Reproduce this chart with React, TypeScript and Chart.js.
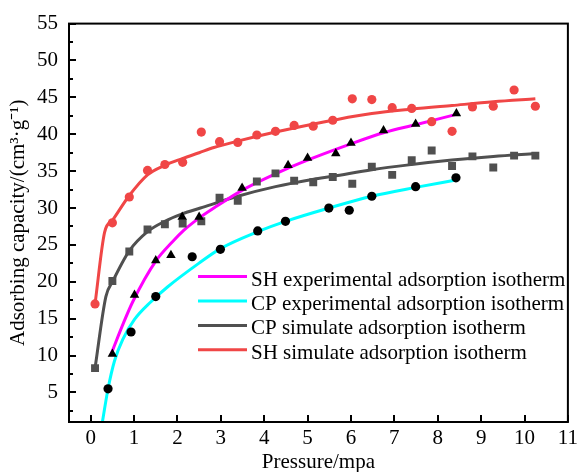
import React, { useEffect, useRef } from "react";
import { Chart, registerables } from "chart.js";

Chart.register(...registerables);

// ---- Data ----
// Simulated points (shared pressures)
const simPressure = [0.1, 0.5, 0.89, 1.31, 1.71, 2.12, 2.55, 2.97, 3.39, 3.83, 4.26, 4.69, 5.13, 5.58, 6.03, 6.48, 6.95, 7.4, 7.86, 8.33, 8.8, 9.28, 9.76, 10.25];
const shSimulate = [17.0, 28.0, 31.5, 35.1, 35.9, 36.2, 40.3, 39.0, 38.9, 39.9, 40.4, 41.2, 41.1, 41.9, 44.8, 44.7, 43.6, 43.5, 41.7, 40.4, 43.7, 43.8, 46.0, 43.8];
const cpSimulate = [8.3, 20.1, 24.1, 27.1, 27.8, 27.9, 28.2, 31.4, 31.0, 33.6, 34.7, 33.7, 33.5, 34.2, 33.3, 35.6, 34.5, 36.5, 37.8, 35.7, 37.0, 35.5, 37.1, 37.1];

// Experimental points
const shExpPressure = [0.5, 1.01, 1.5, 1.85, 2.11, 2.5, 3.49, 4.55, 5.0, 5.65, 6.0, 6.75, 7.49, 8.43];
const shExperimental = [10.2, 18.2, 22.9, 23.6, 28.8, 28.8, 32.7, 35.8, 36.8, 37.4, 38.8, 40.5, 41.4, 42.8];
const cpExpPressure = [0.4, 0.93, 1.5, 2.34, 2.99, 3.85, 4.49, 5.49, 5.96, 6.48, 7.49, 8.42];
const cpExperimental = [5.5, 13.2, 18.0, 23.4, 24.4, 26.9, 28.2, 30.0, 29.7, 31.6, 32.9, 34.1];

// Isotherm curves
const shExpCurveP = [0.47, 0.74, 0.97, 1.5, 1.88, 2.15, 2.49, 2.84, 3.49, 4.55, 5.13, 6.0, 6.75, 7.49, 8.43];
const shExpCurveV = [10.2, 14.2, 17.3, 22.8, 25.4, 27.0, 28.6, 30.0, 32.4, 35.4, 36.8, 38.7, 40.2, 41.3, 42.7];
const cpExpCurveP = [0.27, 0.4, 0.55, 0.74, 1.01, 1.39, 1.77, 2.49, 2.99, 3.85, 4.49, 5.49, 6.48, 7.49, 8.42];
const cpExpCurveV = [1.0, 5.5, 9.3, 12.2, 14.9, 17.3, 19.3, 22.5, 24.5, 26.8, 28.2, 30.0, 31.6, 32.8, 33.8];
const cpSimCurveP = [0.1, 0.35, 0.51, 0.89, 1.31, 1.71, 2.11, 2.53, 3.39, 4.26, 5.14, 5.58, 6.48, 7.4, 8.33, 9.28, 10.25];
const cpSimCurveV = [8.3, 18.0, 20.1, 24.2, 26.8, 28.2, 29.2, 30.0, 31.6, 32.9, 33.9, 34.3, 35.2, 35.9, 36.5, 37.0, 37.4];
const shSimCurveP = [0.1, 0.32, 0.51, 0.89, 1.31, 1.71, 2.11, 2.5, 2.84, 3.41, 4.26, 5.14, 5.58, 6.48, 7.4, 8.33, 9.28, 10.25];
const shSimCurveV = [17.0, 26.7, 28.4, 31.7, 34.5, 35.8, 36.7, 37.5, 38.2, 39.1, 40.3, 41.4, 41.9, 42.8, 43.4, 43.9, 44.4, 44.8];

const legendLabels = [
  "SH experimental adsorption isotherm",
  "CP experimental adsorption isotherm",
  "CP simulate adsorption isotherm",
  "SH simulate adsorption isotherm",
];

const xTicks = [0, 1, 2, 3, 4, 5, 6, 7, 8, 9, 10, 11];
const yTicks = [5, 10, 15, 20, 25, 30, 35, 40, 45, 50, 55];
const yMinorTicks = [2.5, 7.5, 12.5, 17.5, 22.5, 27.5, 32.5, 37.5, 42.5, 47.5, 52.5];

const xTitle = "Pressure/mpa";
const yTitle = "Adsorbing capacity/(cm³·g⁻¹)";

// ---- Styles ----
const FONT = "'Liberation Serif', 'Times New Roman', Times, serif";
const RED = "#f04646";
const GRAY = "#505050";
const MAGENTA = "#ff00ff";
const CYAN = "#00ffff";

Chart.defaults.font.family = FONT;
Chart.defaults.font.size = 21;
Chart.defaults.color = "#000";

const toXY = (xs: number[], ys: number[]) => xs.map((x, i) => ({ x, y: ys[i] }));

const frameAndLegend = {
  id: "frameAndLegend",
  afterDraw(chart: any) {
    const { ctx, chartArea } = chart;
    const xs = chart.scales.x;
    const ys = chart.scales.y;
    const { left, right, top, bottom } = chartArea;
    ctx.save();
    ctx.strokeStyle = "#000";
    ctx.lineWidth = 2;
    ctx.strokeRect(left, top, right - left, bottom - top);
    // inward ticks
    ctx.lineWidth = 2;
    ctx.beginPath();
    yTicks.forEach((v) => {
      const y = Math.round(ys.getPixelForValue(v));
      ctx.moveTo(left, y);
      ctx.lineTo(left + 7, y);
    });
    yMinorTicks.forEach((v) => {
      const y = Math.round(ys.getPixelForValue(v));
      ctx.moveTo(left, y);
      ctx.lineTo(left + 4, y);
    });
    xTicks.forEach((v) => {
      const x = Math.round(xs.getPixelForValue(v));
      ctx.moveTo(x, bottom);
      ctx.lineTo(x, bottom - 7);
    });
    ctx.stroke();

    // legend
    const colors = [MAGENTA, CYAN, GRAY, RED];
    ctx.font = `21px ${FONT}`;
    ctx.textAlign = "left";
    ctx.textBaseline = "alphabetic";
    legendLabels.forEach((label, i) => {
      const ly = top + 253 + i * 24.4;
      ctx.strokeStyle = colors[i];
      ctx.lineWidth = 3;
      ctx.beginPath();
      ctx.moveTo(left + 129, ly);
      ctx.lineTo(left + 178, ly);
      ctx.stroke();
      ctx.fillStyle = "#000";
      ctx.fillText(label, left + 182, ly + 9);
    });
    ctx.restore();
  },
};

export default function App() {
  const ref = useRef<HTMLCanvasElement | null>(null);

  useEffect(() => {
    if (!ref.current) return;
    const lineCommon = {
      type: "line" as const,
      pointRadius: 0,
      borderWidth: 3,
      cubicInterpolationMode: "monotone" as const,
      fill: false,
      order: 1,
    };
    const chart = new Chart(ref.current, {
      type: "scatter",
      data: {
        datasets: [
          {
            label: "SH experimental",
            data: toXY(shExpPressure, shExperimental),
            pointStyle: "triangle",
            pointRadius: 5.5,
            backgroundColor: "#000",
            borderColor: "#000",
            borderWidth: 0,
            order: 0,
          },
          {
            label: "CP experimental",
            data: toXY(cpExpPressure, cpExperimental),
            pointStyle: "circle",
            pointRadius: 4.6,
            backgroundColor: "#000",
            borderColor: "#000",
            borderWidth: 0,
            order: 0,
          },
          {
            label: "CP simulate",
            data: toXY(simPressure, cpSimulate),
            pointStyle: "rect",
            pointRadius: 5.6,
            backgroundColor: GRAY,
            borderColor: GRAY,
            borderWidth: 0,
            order: 0,
          },
          {
            label: "SH simulate",
            data: toXY(simPressure, shSimulate),
            pointStyle: "circle",
            pointRadius: 4.6,
            backgroundColor: RED,
            borderColor: RED,
            borderWidth: 0,
            order: 0,
          },
          { ...lineCommon, label: legendLabels[0], data: toXY(shExpCurveP, shExpCurveV), borderColor: MAGENTA },
          { ...lineCommon, label: legendLabels[1], data: toXY(cpExpCurveP, cpExpCurveV), borderColor: CYAN },
          { ...lineCommon, label: legendLabels[2], data: toXY(cpSimCurveP, cpSimCurveV), borderColor: GRAY },
          { ...lineCommon, label: legendLabels[3], data: toXY(shSimCurveP, shSimCurveV), borderColor: RED },
        ] as any,
      },
      options: {
        animation: false,
        responsive: false,
        maintainAspectRatio: false,
        devicePixelRatio: 1,
        layout: { padding: { top: 18, right: 11, left: 0, bottom: 0 } },
        plugins: { legend: { display: false }, tooltip: { enabled: false } },
        scales: {
          x: {
            type: "linear",
            min: -0.5,
            max: 11,
            afterBuildTicks: (s: any) => {
              s.ticks = xTicks.map((v) => ({ value: v }));
            },
            afterFit: (s: any) => {
              s.height = 50;
            },
            grid: { display: false, drawTicks: false },
            border: { display: false },
            ticks: {
              autoSkip: false,
              maxRotation: 0,
              padding: 4,
              color: "#000",
              font: { family: FONT, size: 21 },
              callback: (v: any) => String(v),
            },
            title: {
              display: true,
              text: xTitle,
              color: "#000",
              font: { family: FONT, size: 21 },
              padding: { top: 0, bottom: -3.5 },
            },
          },
          y: {
            type: "linear",
            min: 1,
            max: 55,
            afterBuildTicks: (s: any) => {
              s.ticks = yTicks.map((v) => ({ value: v }));
            },
            afterFit: (s: any) => {
              s.width = 69;
            },
            grid: { display: false, drawTicks: false },
            border: { display: false },
            ticks: {
              autoSkip: false,
              padding: 11,
              color: "#000",
              font: { family: FONT, size: 21 },
              callback: (v: any) => String(v),
            },
            title: {
              display: true,
              text: yTitle,
              color: "#000",
              font: { family: FONT, size: 21 },
              padding: { top: 6, bottom: 0 },
            },
          },
        },
      },
      plugins: [frameAndLegend],
    } as any);
    return () => chart.destroy();
  }, []);

  return (
    <div style={{ position: "absolute", left: 0, top: 0, width: 582, height: 472, background: "#fff" }}>
      <canvas ref={ref} width={582} height={472} style={{ display: "block" }} />
    </div>
  );
}
